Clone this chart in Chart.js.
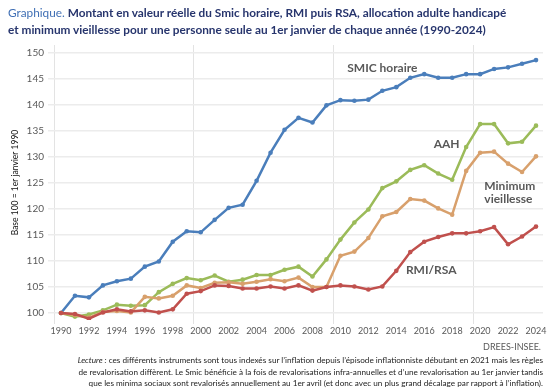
<!DOCTYPE html>
<html>
<head>
<meta charset="utf-8">
<script src="https://cdn.jsdelivr.net/npm/chart.js@4"></script>
<style>
  body { margin: 0; background: #fff; font-family: Lato, "Noto Sans", sans-serif; }
  #wrap { position: relative; width: 550px; height: 392px; overflow: hidden; }
  #chart { position: absolute; left: 0; top: 0; }
  .titre { position: absolute; left: 8px; top: 4px; font-size: 11.8px; line-height: 17px; color: #27356d; font-weight: bold; white-space: nowrap; }
  .titre span { color: #4170b5; font-weight: normal; }
  .source { position: absolute; right: 9px; top: 341px; font-size: 9px; color: #595959; }
  .lecture { position: absolute; right: 7px; top: 355px; font-size: 8.2px; line-height: 11.5px; color: #222; text-align: right; white-space: nowrap; }
</style>
</head>
<body>
<div id="wrap">
  <canvas id="chart" width="550" height="392"></canvas>
  <div class="titre"><span>Graphique.</span> Montant en valeur réelle du Smic horaire, RMI puis RSA, allocation adulte handicapé<br>et minimum vieillesse pour une personne seule au 1er janvier de chaque année (1990-2024)</div>
  <div class="source">DREES-INSEE.</div>
  <div class="lecture"><i>Lecture :</i> ces différents instruments sont tous indexés sur l’inflation depuis l’épisode inflationniste débutant en 2021 mais les règles<br>de revalorisation diffèrent. Le Smic bénéficie à la fois de revalorisations infra-annuelles et d’une revalorisation au 1er janvier tandis<br>que les minima sociaux sont revalorisés annuellement au 1er avril (et donc avec un plus grand décalage par rapport à l’inflation).</div>
</div>
<script>
// années 1990-2024
const years = [];
for (let y = 1990; y <= 2024; y++) years.push(String(y));

const smic = [100, 103.3, 103.0, 105.3, 106.1, 106.6, 108.9, 109.9, 113.7, 115.7,
  115.5, 117.9, 120.2, 120.8, 125.4, 130.8, 135.2, 137.5, 136.6, 139.9,
  140.9, 140.8, 141.0, 142.7, 143.4, 145.2, 145.9, 145.2, 145.2, 145.9,
  145.9, 146.9, 147.2, 147.9, 148.6];
const aah = [100, 99.3, 99.7, 100.5, 101.6, 101.4, 101.5, 104.0, 105.6, 106.7,
  106.3, 107.2, 106.0, 106.4, 107.3, 107.3, 108.3, 108.9, 107.0, 110.3,
  114.1, 117.4, 119.9, 124.0, 125.3, 127.5, 128.4, 126.8, 125.6, 131.9,
  136.3, 136.3, 132.6, 132.9, 136.0];
const minVieillesse = [100, 99.6, 99.1, 100.2, 100.4, 100.1, 103.1, 102.8, 103.3, 105.3,
  104.8, 105.8, 105.9, 105.6, 106.0, 106.5, 106.1, 106.8, 105.0, 105.0,
  111.0, 111.8, 114.4, 118.6, 119.4, 121.9, 121.6, 120.1, 118.9, 127.3,
  130.8, 131.0, 128.7, 127.1, 130.1];
const rmiRsa = [100, 99.8, 98.9, 100.1, 100.7, 100.3, 100.5, 100.1, 100.7, 103.7,
  104.2, 105.3, 105.2, 104.7, 104.7, 105.1, 104.7, 105.3, 104.3, 105.0,
  105.3, 105.1, 104.5, 105.1, 108.1, 111.7, 113.7, 114.6, 115.3, 115.3,
  115.7, 116.5, 113.2, 114.7, 116.6];
const yTicks = [100, 105, 110, 115, 120, 125, 130, 135, 140, 145, 150];

// étiquettes posées dans le graphique (index d'année, valeur)
const etiquettes = [
  { text: 'SMIC horaire', x: 23, y: 147.1, align: 'center' },
  { text: 'AAH', x: 27.6, y: 132.4, align: 'center' },
  { text: 'Minimum', x: 30.3, y: 124.4, align: 'left' },
  { text: 'vieillesse', x: 30.3, y: 121.9, align: 'left' },
  { text: 'RMI/RSA', x: 26.5, y: 108.3, align: 'center' }
];

const labelsPlugin = {
  id: 'etiquettes',
  afterDatasetsDraw(chart) {
    const ctx = chart.ctx;
    const xs = chart.scales.x, ys = chart.scales.y;
    ctx.save();
    ctx.font = 'bold 12px Lato, "Noto Sans", sans-serif';
    ctx.fillStyle = '#595959';
    ctx.textBaseline = 'middle';
    etiquettes.forEach(e => {
      ctx.textAlign = e.align;
      ctx.fillText(e.text, xs.getPixelForValue(e.x), ys.getPixelForValue(e.y));
    });
    ctx.restore();
  }
};

function serie(label, data, color) {
  return {
    label: label,
    data: data,
    borderColor: color,
    backgroundColor: color,
    borderWidth: 2.5,
    pointRadius: 2.3,
    pointHoverRadius: 3,
    pointBorderWidth: 0,
    tension: 0
  };
}

new Chart(document.getElementById('chart').getContext('2d'), {
  type: 'line',
  data: {
    labels: years,
    datasets: [
      serie('RMI/RSA', rmiRsa, '#c0504d'),
      serie('Minimum vieillesse', minVieillesse, '#d8a06c'),
      serie('AAH', aah, '#9bbb59'),
      serie('SMIC horaire', smic, '#4a7ebb')
    ]
  },
  options: {
    responsive: false,
    animation: false,
    layout: { padding: { top: 45, right: 7, bottom: 52, left: 0 } },
    scales: {
      x: {
        type: 'category',
        offset: true,
        border: { display: false },
        grid: {
          offset: true,
          drawTicks: true,
          tickLength: 4,
          lineWidth: 1,
          color: c => (c.index % 10 === 0 ? '#e3e3e3' : 'rgba(0,0,0,0)')
        },
        ticks: {
          autoSkip: false,
          maxRotation: 0,
          padding: 2,
          color: '#595959',
          font: { size: 9, family: 'Lato, "Noto Sans", sans-serif' },
          callback: (v, i) => (i % 2 === 0 ? years[i] : '')
        },
        afterFit: s => { s.height = 20; }
      },
      y: {
        min: 98.65,
        max: 151.5,
        border: { display: false },
        afterBuildTicks: s => { s.ticks = yTicks.map(v => ({ value: v })); },
        grid: { color: '#ececec', lineWidth: 1.5, tickLength: 6 },
        ticks: {
          padding: 4,
          color: '#595959',
          font: { size: 10, family: 'Lato, "Noto Sans", sans-serif' }
        },
        title: {
          display: true,
          text: 'Base 100 = 1er janvier 1990',
          color: '#111',
          padding: { top: 10, bottom: 0 },
          font: { size: 8.5, family: 'Lato, "Noto Sans", sans-serif' }
        },
        afterFit: s => { s.width = 54; }
      }
    },
    plugins: {
      legend: { display: false },
      tooltip: { enabled: false }
    }
  },
  plugins: [labelsPlugin]
});
</script>
</body>
</html>
